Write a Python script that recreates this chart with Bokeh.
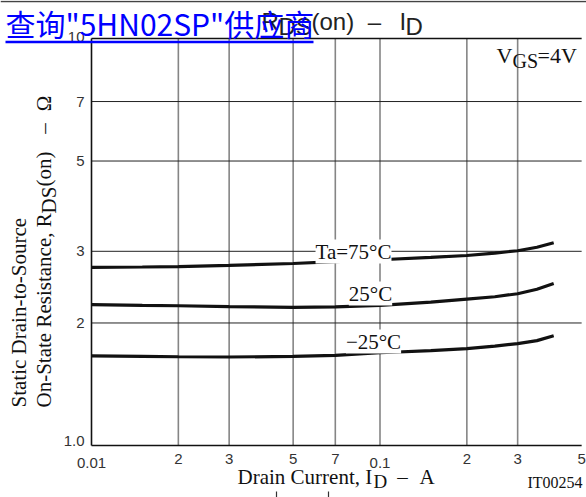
import math
from bokeh.plotting import figure
from bokeh.models import Range1d, Label, Arrow, Span
from bokeh.core.properties import value
from bokeh.embed import file_html
from bokeh.resources import INLINE

# ---- data ----
x_current = [0.01, 0.015, 0.02, 0.03, 0.05, 0.07, 0.1, 0.15, 0.2, 0.25, 0.3, 0.35, 0.4]
r_75 = [2.74, 2.745, 2.75, 2.77, 2.80, 2.83, 2.86, 2.90, 2.93, 2.97, 3.01, 3.07, 3.15]
r_25 = [2.22, 2.21, 2.205, 2.195, 2.185, 2.19, 2.21, 2.25, 2.29, 2.32, 2.36, 2.42, 2.50]
r_m25 = [1.66, 1.655, 1.652, 1.65, 1.655, 1.665, 1.69, 1.71, 1.73, 1.755, 1.78, 1.81, 1.86]

x_ticks = [0.01, 0.02, 0.03, 0.05, 0.07, 0.1, 0.2, 0.3, 0.5]
x_tick_labels = ["0.01", "2", "3", "5", "7", "0.1", "2", "3", "5"]
y_ticks = [1, 2, 3, 5, 7, 10]
y_tick_labels = ["1.0", "2", "3", "5", "7", "10"]
x_grid = [0.02, 0.03, 0.05, 0.07, 0.1, 0.2, 0.3]
y_grid = [2, 3, 5, 7]

X0, X1, Y0, Y1 = 0.01, 0.5, 1.0, 10.0

W, H = 586, 497
FL, FT, FB = 91, 38, 445     # plot box in page pixels
DEC_X = 288.5                # px per decade along x
DEC_Y = FB - FT              # px per decade along y
BL = 7                       # baseline correction for labels (px)


def PX(px):
    return 10 ** (math.log10(X0) + (px - FL) / DEC_X)


def PY(py):
    return 10 ** (math.log10(Y0) + (FB - py) / DEC_Y)


p = figure(width=W, height=H, x_axis_type="log", y_axis_type="log",
           x_range=Range1d(PX(0), PX(W)), y_range=Range1d(PY(H), PY(0)),
           x_axis_location=None, y_axis_location=None,
           output_backend="svg", toolbar_location=None,
           min_border_left=0, min_border_right=0, min_border_top=0, min_border_bottom=0)
p.title.text = ""
p.outline_line_color = None
p.xgrid.visible = False
p.ygrid.visible = False
p.background_fill_color = "white"
p.border_fill_color = "white"

# page top rule
p.add_layout(Span(location=PY(1), dimension="width", line_color="#444444", line_width=1.5))

# grid
n = len(x_grid)
p.segment(x0=x_grid, y0=[Y0] * n, x1=x_grid, y1=[Y1] * n, line_color="#858585", line_width=1.6)
m = len(y_grid)
p.segment(x0=[X0] * m, y0=y_grid, x1=[X1] * m, y1=y_grid, line_color="#222222", line_width=1.0)

# plot box (left, top, bottom)
p.segment(x0=[X0, X0, X0], y0=[Y0, Y1, Y0], x1=[X0, X1, X1], y1=[Y1, Y1, Y0],
          line_color="#111111", line_width=1.6)

# curves
for ys in (r_75, r_25, r_m25):
    p.line(x_current, ys, line_color="#111111", line_width=3.2)

# tick labels
TF = value("Liberation Sans")
x_lab_y = [PY(462) if l.startswith("0.") else PY(458) for l in x_tick_labels]
p.text(x=x_ticks, y=x_lab_y, text=x_tick_labels, text_font=TF, text_font_size="15px",
       text_color="#333333", text_align="center", text_baseline="alphabetic")
y_shift = {"1.0": -5, "10": -2}
y_lab_y = [PY(FB - math.log10(t) * DEC_Y + y_shift.get(l, 0)) for t, l in zip(y_ticks, y_tick_labels)]
p.text(x=[PX(84)] * len(y_ticks), y=y_lab_y, text=y_tick_labels, text_font=TF,
       text_font_size="15px", text_color="#333333", text_align="right", text_baseline="middle")


def lab(text, px, py, size, font="Liberation Serif", color="#111111", align="left",
        angle=0.0, bg=None, corr=BL):
    kw = {}
    if bg:
        kw["background_fill_color"] = bg
    if angle:
        px = px - corr
    else:
        py = py - corr
    p.add_layout(Label(x=PX(px), y=PY(py),
                       text=text, text_font=font, text_font_size=f"{size}px",
                       text_color=color, text_align=align, text_baseline="alphabetic",
                       angle=angle, **kw))


# curve labels
lab("Ta=75°C", 353, 258, 21, align="center", bg="white")
lab("25°C", 370, 300, 21, align="center", bg="white")
lab("\u221225°C", 373, 348, 21, align="center", bg="white")

# V_GS = 4V
lab("V", 496, 62, 22)
lab("GS", 512, 67, 20)
lab("=4V", 537, 62, 22)

# x axis label
lab("Drain Current, I", 237, 483, 21)
lab("D", 373, 488, 19)
lab("\u2013", 402, 483, 21, align="center")
lab("A", 419, 483, 21)
lab("IT00254", 527, 489, 16)

# y axis label (rotated)
A = math.pi / 2
lab("Static Drain-to-Source", 25, 407, 21, angle=A)
lab("On-State Resistance, R", 50, 407, 21, angle=A)
lab("DS", 55, 213, 21, angle=A)
lab("(on)", 50, 186, 21, angle=A)
lab("\u2013", 50, 128, 21, angle=A, align="center")
lab("\u03a9", 50, 103, 21, angle=A, align="center")

# chart title
TC = "#222222"
lab("R", 261, 28, 24, font="Liberation Sans", color=TC)
lab("DS", 278, 33, 24, font="Liberation Sans", color=TC)
lab("(on)", 311, 28, 24, font="Liberation Sans", color=TC)
lab("\u2013", 374, 28, 24, font="Liberation Sans", color=TC, align="center")
lab("I", 399, 28, 24, font="Liberation Sans", color=TC)
lab("D", 405, 33, 24, font="Liberation Sans", color=TC)

# blue link overlay
lab("查询\"5HN02SP\"供应商", 5, 32, 30, font="Noto Sans CJK SC", color="#0000ff", corr=10)
p.add_layout(Arrow(start=None, end=None, x_start=PX(5), y_start=PY(41.5), x_end=PX(313),
                   y_end=PY(41.5), line_color="#0000ff", line_width=2.5))

# fragments of the next chart at the bottom edge
p.segment(x0=[PX(276), PX(328)], y0=[PY(491), PY(491)], x1=[PX(276), PX(328)],
          y1=[PY(H + 2), PY(H + 2)], line_color="#333333", line_width=1.2)

open("out.html", "w").write(file_html(p, INLINE))
